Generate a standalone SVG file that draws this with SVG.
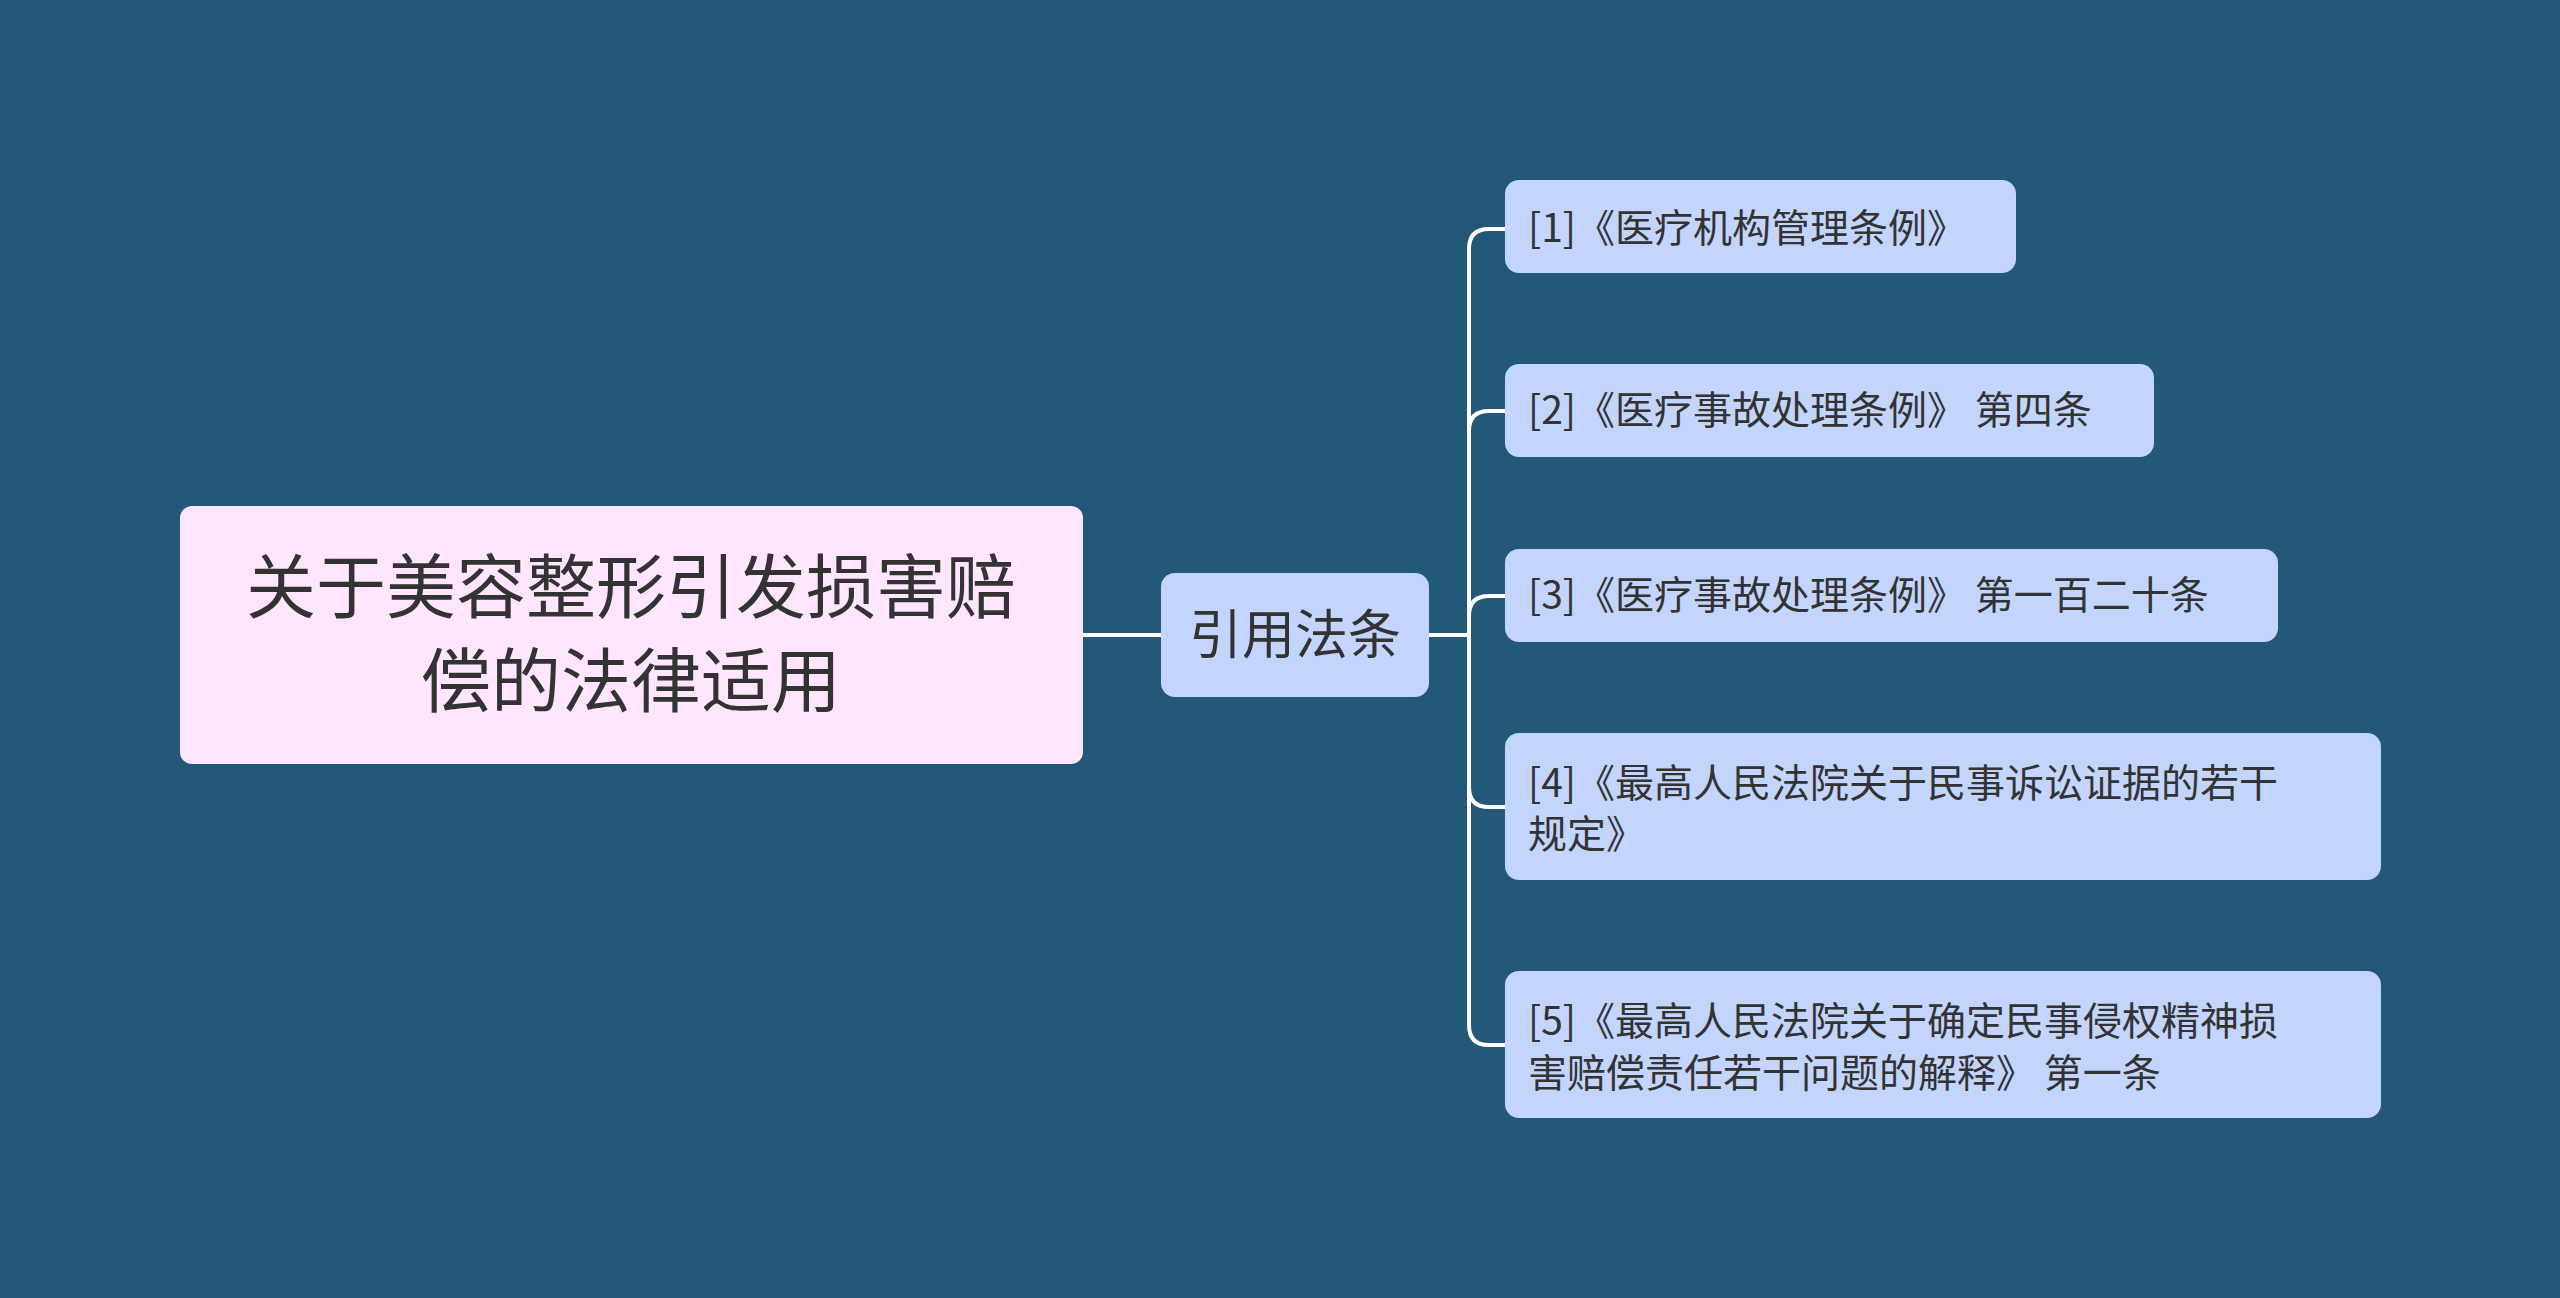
<svg xmlns="http://www.w3.org/2000/svg" width="2560" height="1298" viewBox="0 0 2560 1298">
<style>
.t{font-family:"Noto Sans CJK SC","Noto Sans",sans-serif;fill:#333}
.leaf{fill:#c3d5fd}
.c{fill:none;stroke:#fff;stroke-width:4}
</style>
<rect width="2560" height="1298" fill="#235879"/>
<g id="connectors">
<path class="c" d="M1083 635H1161"/>
<path class="c" d="M1429 635H1469"/>
<path class="c" d="M1505 229H1489Q1469 229 1469 249V1025Q1469 1045 1489 1045H1505"/>
<path class="c" d="M1505 411H1489Q1469 411 1469 431"/>
<path class="c" d="M1505 596H1489Q1469 596 1469 616"/>
<path class="c" d="M1505 807H1489Q1469 807 1469 787"/>
</g>
<g id="root">
<rect x="180" y="506" width="903" height="258" rx="12" fill="#ffe5fe"/>
<text class="t" font-size="70" x="631" y="613" text-anchor="middle">关于美容整形引发损害赔</text>
<text class="t" font-size="70" x="631" y="707" text-anchor="middle">偿的法律适用</text>
</g>
<g id="mid">
<rect class="leaf" x="1161" y="573" width="268" height="124" rx="14"/>
<text class="t" font-size="53" x="1295" y="654" text-anchor="middle">引用法条</text>
</g>
<g id="n1"><rect class="leaf" x="1505" y="180" width="511" height="93" rx="14"/>
<text class="t" font-size="39" x="1528" y="242">[1]《医疗机构管理条例》</text></g>
<g id="n2"><rect class="leaf" x="1505" y="364" width="649" height="93" rx="14"/>
<text class="t" font-size="39" x="1528" y="424">[2]《医疗事故处理条例》 第四条</text></g>
<g id="n3"><rect class="leaf" x="1505" y="549" width="773" height="93" rx="14"/>
<text class="t" font-size="39" x="1528" y="609">[3]《医疗事故处理条例》 第一百二十条</text></g>
<g id="n4"><rect class="leaf" x="1505" y="733" width="876" height="147" rx="14"/>
<text class="t" font-size="39" x="1528" y="797">[4]《最高人民法院关于民事诉讼证据的若干</text>
<text class="t" font-size="39" x="1528" y="848">规定》</text></g>
<g id="n5"><rect class="leaf" x="1505" y="971" width="876" height="147" rx="14"/>
<text class="t" font-size="39" x="1528" y="1035">[5]《最高人民法院关于确定民事侵权精神损</text>
<text class="t" font-size="39" x="1528" y="1087">害赔偿责任若干问题的解释》 第一条</text></g>
</svg>
